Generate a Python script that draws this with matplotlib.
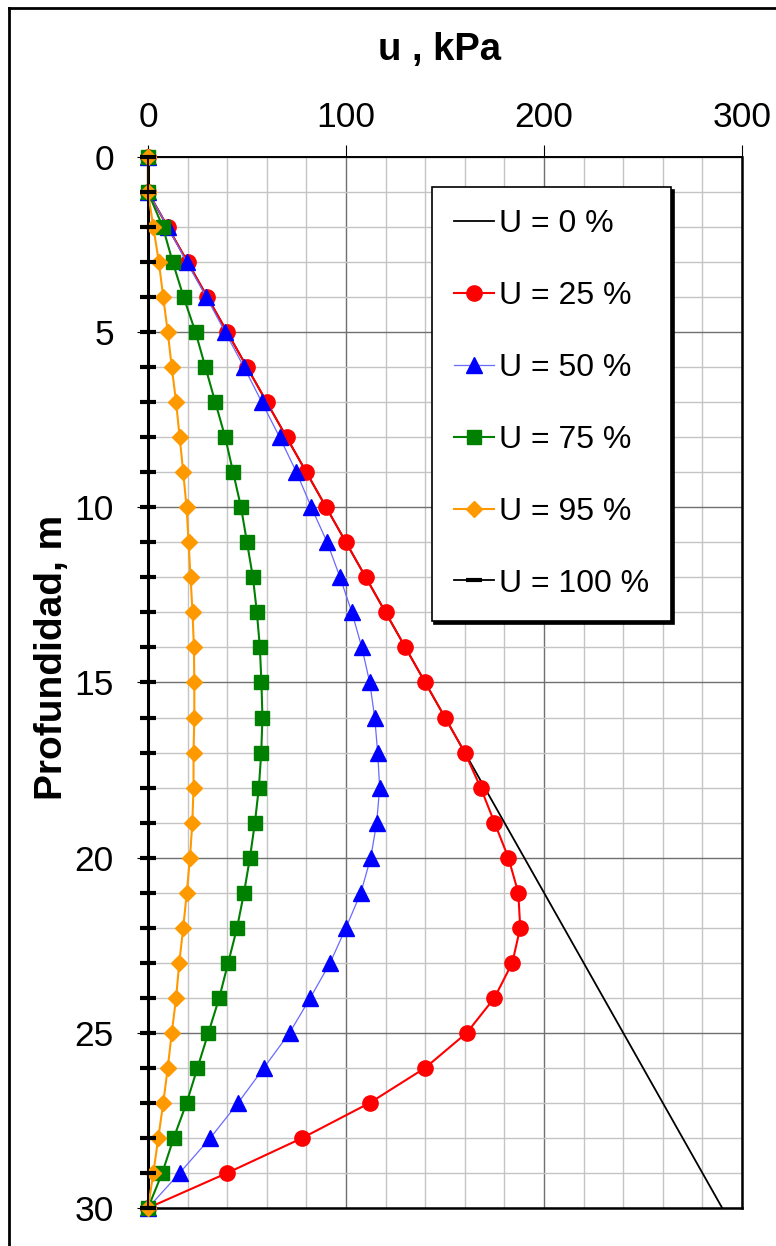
import matplotlib
matplotlib.use('Agg')
import matplotlib.pyplot as plt
from matplotlib.lines import Line2D
from matplotlib.ticker import MultipleLocator

plt.rcParams['font.family'] = ['Liberation Sans', 'DejaVu Sans']

# depth (m) and excess pore pressure u (kPa) for each degree of consolidation
depth = [0, 1, 2, 3, 4, 5, 6, 7, 8, 9, 10, 11, 12, 13, 14, 15,
         16, 17, 18, 19, 20, 21, 22, 23, 24, 25, 26, 27, 28, 29, 30]

u_0 = [0, 0, 10, 20, 30, 40, 50, 60, 70, 80, 90, 100, 110, 120, 130, 140,
       150, 160, 170, 180, 190, 200, 210, 220, 230, 240, 250, 260, 270, 280, 290]
u_25 = [0, 0, 10, 20, 30, 40, 50, 60, 70, 80, 90, 100, 110, 120, 130, 140,
        150, 160, 168, 175, 182, 187, 188, 184, 175, 161, 140, 112, 78, 40, 0]
u_50 = [0, 0, 10, 19.5, 29.5, 39, 48.5, 57.5, 66.5, 75, 82.5, 90.5, 97, 103, 108, 112,
        114.5, 116, 117, 115.5, 112.5, 107.5, 100, 92, 82, 71.5, 58.5, 45.5, 31.5, 16, 0]
u_75 = [0, 0, 7.5, 12.5, 18, 24, 29, 34, 39, 43, 47, 50, 53, 55, 56.5, 57.3,
        57.8, 57.2, 56, 54, 51.5, 48.5, 45, 40.5, 36, 30.5, 25, 19.5, 13, 7.2, 0]
u_95 = [0, 0, 2.7, 5.5, 7.7, 10, 12, 14.2, 16, 17.8, 19.5, 20.5, 21.5, 22.5, 23.2, 23.4,
        23.4, 23, 23, 22.4, 21.2, 19.6, 17.8, 15.8, 14.2, 12, 10, 7.7, 5.2, 2.7, 0]
u_100 = [0] * 31

labels = ['U = 0 %', 'U = 25 %', 'U = 50 %', 'U = 75 %', 'U = 95 %', 'U = 100 %']


def main():
    fig = plt.figure(figsize=(7.76, 12.46), dpi=100)
    ax = fig.add_axes([0.1907, 0.0305, 0.7655, 0.8435])

    ax.plot(u_0, depth, color='black', lw=1.3, label=labels[0], clip_on=False, zorder=3)
    ax.plot(u_25, depth, color='#ff0000', lw=1.5, marker='o', ms=11,
            label=labels[1], clip_on=False, zorder=4)
    ax.plot(u_50, depth, color='#6a6aff', lw=0.9, marker='^', ms=12,
            mfc='#0000ff', mec='#0000ff', label=labels[2], clip_on=False, zorder=5)
    ax.plot(u_75, depth, color='#008000', lw=1.5, marker='s', ms=10.5,
            label=labels[3], clip_on=False, zorder=6)
    ax.plot(u_95, depth, color='#ff9900', lw=1.5, marker='D', ms=8,
            label=labels[4], clip_on=False, zorder=7)
    ax.plot(u_100, depth, color='black', lw=1.3, marker='_', ms=12, mew=3,
            label=labels[5], clip_on=False, zorder=8)

    ax.set_xlim(0, 300)
    ax.set_ylim(30, 0)
    ax.xaxis.set_major_locator(MultipleLocator(100))
    ax.xaxis.set_minor_locator(MultipleLocator(20))
    ax.yaxis.set_major_locator(MultipleLocator(5))
    ax.yaxis.set_minor_locator(MultipleLocator(1))

    ax.grid(which='major', color='#707070', lw=1.0)
    ax.grid(which='minor', color='#c4c4c4', lw=1.0)
    ax.set_axisbelow(True)

    ax.tick_params(axis='x', which='major', top=True, bottom=False, labeltop=True,
                   labelbottom=False, direction='out', length=8.5, width=0.8,
                   pad=8, labelsize=25.5)
    ax.tick_params(axis='y', which='major', direction='out', length=8,
                   width=0.8, pad=16.5, labelsize=25.5)
    ax.tick_params(which='minor', length=0, top=False, bottom=False, left=False)

    ax.spines['left'].set_linewidth(2.2)
    ax.spines['top'].set_linewidth(1.4)
    ax.spines['right'].set_linewidth(1.8)
    ax.spines['bottom'].set_linewidth(1.8)

    ax.xaxis.set_label_position('top')
    ax.set_xlabel('u , kPa', fontsize=27.5, fontweight='bold')
    ax.xaxis.label.set_verticalalignment('center')
    ax.xaxis.set_label_coords(0.49, 1.102)
    ax.set_ylabel('Profundidad, m', fontsize=28, fontweight='bold')
    ax.yaxis.label.set_verticalalignment('center')
    ax.yaxis.set_label_coords(-0.162, 0.524)

    leg = ax.legend(loc='upper left', bbox_to_anchor=(0.4776, 0.9715), fontsize=23,
                    frameon=True, fancybox=False, framealpha=1, edgecolor='black',
                    borderpad=0.7, labelspacing=1.31, handlelength=1.25,
                    handletextpad=0.15, borderaxespad=0,
                    shadow={'color': 'black', 'alpha': 1})
    leg.get_frame().set_linewidth(1.2)
    leg.set_zorder(20)

    # outer frame of the chart area
    fig.add_artist(Line2D([0.0122, 1.0], [0.9932, 0.9932], color='black', lw=2))
    fig.add_artist(Line2D([0.0122, 0.0122], [0.0, 0.9932], color='black', lw=2))

    fig.savefig('out.png', dpi=100)


if __name__ == '__main__':
    main()
